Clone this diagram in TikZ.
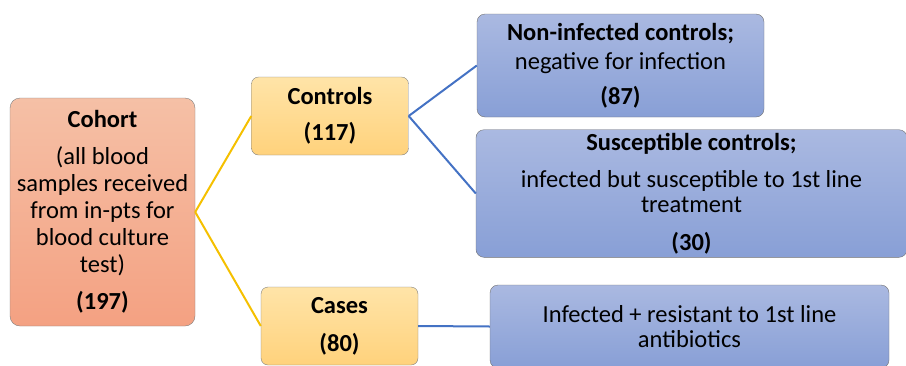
\documentclass[tikz,border=0pt]{standalone}
\usepackage{fontspec}
\setmainfont{Carlito}
\usetikzlibrary{positioning}
\definecolor{cohorttop}{HTML}{F5C0A6}
\definecolor{cohortbot}{HTML}{F4A182}
\definecolor{grouptop}{HTML}{FFE4A8}
\definecolor{groupbot}{HTML}{FFD27C}
\definecolor{subtop}{HTML}{AAB9E1}
\definecolor{subbot}{HTML}{889FD6}
\definecolor{linkyellow}{HTML}{F5C000}
\definecolor{linkblue}{HTML}{4472C4}
\tikzstyle{line} = [draw, line width=2pt]
\tikzstyle{cohortbox} = [rectangle, rounded corners=10pt, draw=black!50, top color=cohorttop, bottom color=cohortbot, align=center, minimum width=185pt, minimum height=228pt, font=\fontsize{24.5}{27}\selectfont]
\tikzstyle{groupbox} = [rectangle, rounded corners=7pt, draw=black!50, top color=grouptop, bottom color=groupbot, align=center, minimum height=78pt, font=\fontsize{24.5}{27}\selectfont]
\tikzstyle{subbox} = [rectangle, rounded corners=8pt, draw=black!55, top color=subtop, bottom color=subbot, align=center, font=\fontsize{24.5}{25}\selectfont]

\begin{document}
\begin{tikzpicture}[x=1pt, y=1pt]
	\useasboundingbox (0,0) rectangle (906,-365);
	\clip (0,0) rectangle (906,-365);
	
	\node [cohortbox] (cohort) at (102.5,-212) {\textbf{Cohort}\\[10pt] (all blood\\ samples received\\ from in-pts for\\ blood culture\\ test)\\[10pt] \textbf{(197)}};
	
	\node [groupbox, minimum width=157pt, right of=cohort, node distance=227.5pt, yshift=96pt] (controls) {\textbf{Controls}\\[9pt] \textbf{(117)}};
	
	\node [groupbox, minimum width=157pt, right of=cohort, node distance=237pt, yshift=-114pt] (cases) {\textbf{Cases}\\[11pt] \textbf{(80)}};
	
	\node [subbox, minimum width=287pt, minimum height=103pt, right of=controls, node distance=290.5pt, yshift=50.5pt] (noninf) {\textbf{Non-infected controls;}\\[4pt] negative for infection\\[10pt] \textbf{(87)}};
	
	\node [subbox, minimum width=431pt, minimum height=123pt, right of=controls, node distance=361.5pt, yshift=-77.5pt] (suscept) {\textbf{Susceptible controls;}\\[12pt] infected but susceptible to 1st line\\ treatment\\[13pt] \textbf{(30)}};
	
	\node [subbox, minimum width=399pt, minimum height=83pt, right of=cases, node distance=350pt, yshift=-0.5pt] (resist) {Infected + resistant to 1st line\\ antibiotics};
	
	\path [line, linkyellow] (cohort.east) to (controls.west);
	\path [line, linkyellow] (cohort.east) to (cases.west);
	\path [line, linkblue] (controls.east) to (noninf.west);
	\path [line, linkblue] (controls.east) to (suscept.west);
	\path [line, linkblue] (cases.east) to (resist.west);
\end{tikzpicture}
\end{document}
